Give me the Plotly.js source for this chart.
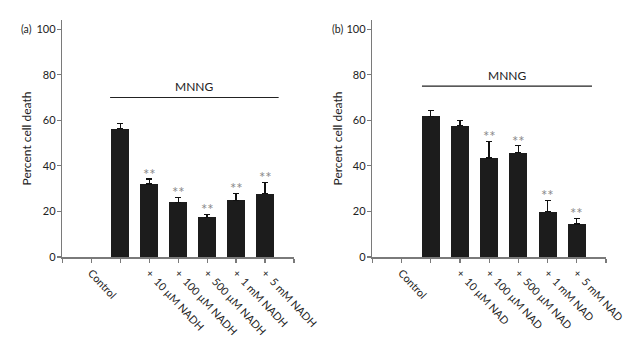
<!DOCTYPE html>
<html><head><meta charset="utf-8">
<script src="https://cdn.plot.ly/plotly-3.0.1.min.js"></script>
<style>html,body{margin:0;padding:0;background:#fff}</style>
</head><body><div id="chart" style="width:640px;height:338px"></div>
<script>
// ---- data ----
const categoryIndex = [0, 1, 2, 3, 4, 5, 6];
const labelsA = ["Control", "", "+  10 µM NADH", "+  100 µM NADH", "+  500 µM NADH", "+  1 mM NADH", "+  5 mM NADH"];
const labelsB = ["Control", "", "+  10 µM NAD", "+  100 µM NAD", "+  500 µM NAD", "+  1 mM NAD", "+  5 mM NAD"];
const valuesA = [null, 56.3, 32.1, 24.0, 17.4, 24.9, 27.8];
const errorsA = [null, 2.3, 2.1, 2.2, 1.4, 3.1, 4.9];
const valuesB = [null, 61.7, 57.7, 43.4, 45.8, 19.9, 14.5];
const errorsB = [null, 2.5, 2.2, 7.3, 3.1, 4.9, 2.5];
const sigA = ["", "", "**", "**", "**", "**", "**"];
const sigB = ["", "", "", "**", "**", "**", "**"];
const yTicks = [0, 20, 40, 60, 80, 100];
const mnngLevelA = 70;
const mnngLevelB = 75;

// ---- styling ----
const FONT = "Lato, 'Open Sans', sans-serif";
const TXT = "#222222";
const AX = "#7a7a7a";
const BAR = "#1c1c1c";

const tickvals = [-1].concat(categoryIndex, [7]);
function ticktext(labels) { return [""].concat(labels, [""]); }

function barTrace(vals, errs, xa, ya) {
  return {
    type: "bar", x: categoryIndex, y: vals, xaxis: xa, yaxis: ya,
    width: 0.62, marker: {color: BAR, line: {width: 0}},
    error_y: {type: "data", array: errs, arrayminus: errs.map(() => 0), symmetric: false,
              color: "#111", thickness: 1.3, width: 3},
    hoverinfo: "skip"
  };
}

function xAxis(domain, labels, anchor) {
  return {
    domain: domain, range: [-1, 7], anchor: anchor,
    tickmode: "array", tickvals: tickvals, ticktext: ticktext(labels),
    tickangle: 47, ticks: "outside", ticklen: 4, tickwidth: 1.2, tickcolor: AX,
    showline: true, linecolor: AX, linewidth: 1.5,
    showgrid: false, zeroline: false,
    tickfont: {family: FONT, size: 10.8, color: TXT}, fixedrange: true
  };
}
function yAxis(anchor) {
  return {
    domain: [0, 1], range: [0, 104], anchor: anchor,
    tickmode: "array", tickvals: yTicks,
    ticks: "outside", ticklen: 4, tickwidth: 1.2, tickcolor: AX,
    showline: true, linecolor: AX, linewidth: 1.5,
    showgrid: false, zeroline: false, ticklabelstandoff: -1,
    tickfont: {family: FONT, size: 11, color: TXT}, fixedrange: true
  };
}

const annotations = [];
function addSig(sig, vals, errs, xr, yr) {
  sig.forEach((s, i) => {
    if (!s) return;
    annotations.push({x: categoryIndex[i], y: vals[i] + errs[i], xref: xr, yref: yr,
      text: s, showarrow: false, yanchor: "bottom", yshift: -6,
      font: {family: FONT, size: 15, color: "#8a8a8a"}});
  });
}
addSig(sigA, valuesA, errorsA, "x", "y");
addSig(sigB, valuesB, errorsB, "x2", "y2");

annotations.push({x: 3.56, y: mnngLevelA, xref: "x", yref: "y", text: "MNNG", showarrow: false,
  yanchor: "bottom", yshift: 1, font: {family: FONT, size: 12, color: TXT}});
annotations.push({x: 3.61, y: mnngLevelB, xref: "x2", yref: "y2", text: "MNNG", showarrow: false,
  yanchor: "bottom", yshift: 1, font: {family: FONT, size: 12, color: TXT}});

annotations.push({x: 34/640, y: 0.962, xref: "paper", yref: "paper", text: "(a)", showarrow: false,
  xanchor: "right", yanchor: "middle", font: {family: FONT, size: 10.5, color: TXT}});
annotations.push({x: 345/640, y: 0.962, xref: "paper", yref: "paper", text: "(b)", showarrow: false,
  xanchor: "right", yanchor: "middle", font: {family: FONT, size: 10.5, color: TXT}});

annotations.push({x: 26/640, y: 0.5, xref: "paper", yref: "paper", text: "Percent cell death", showarrow: false,
  textangle: -90, xanchor: "center", yanchor: "middle", font: {family: FONT, size: 12, color: TXT}});
annotations.push({x: 337/640, y: 0.5, xref: "paper", yref: "paper", text: "Percent cell death", showarrow: false,
  textangle: -90, xanchor: "center", yanchor: "middle", font: {family: FONT, size: 12, color: TXT}});

const shapes = [
  {type: "line", xref: "x", yref: "y", x0: 0.65, x1: 6.47, y0: mnngLevelA, y1: mnngLevelA, line: {color: "#222", width: 1.2}},
  {type: "line", xref: "x2", yref: "y2", x0: 0.70, x1: 6.52, y0: mnngLevelB, y1: mnngLevelB, line: {color: "#222", width: 1.2}}
];

const layout = {
  width: 640, height: 338,
  margin: {l: 0, r: 0, t: 20, b: 81},
  paper_bgcolor: "#fff", plot_bgcolor: "#fff",
  showlegend: false, hovermode: false, bargap: 0,
  xaxis: xAxis([62.3/640, 294/640], labelsA, "y"),
  yaxis: yAxis("x"),
  xaxis2: xAxis([372.3/640, 606/640], labelsB, "y2"),
  yaxis2: yAxis("x2"),
  annotations: annotations, shapes: shapes,
  font: {family: FONT, color: TXT}
};

Plotly.newPlot("chart", [barTrace(valuesA, errorsA, "x", "y"), barTrace(valuesB, errorsB, "x2", "y2")],
  layout, {staticPlot: true, displayModeBar: false});
</script></body></html>
